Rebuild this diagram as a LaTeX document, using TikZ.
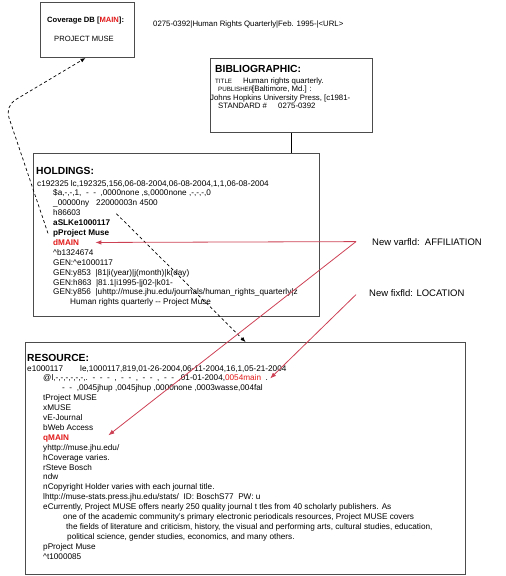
\documentclass[tikz,border=0pt]{standalone}
\usepackage{fontspec}
\setmainfont{Liberation Sans}
\usetikzlibrary{arrows.meta,positioning}
\definecolor{mainred}{RGB}{225,25,25}
\definecolor{linkred}{RGB}{205,65,85}
\tikzset{
     box/.style = {draw=black!70, line width=1pt, anchor=north west, inner sep=0pt},
     heading/.style = {anchor=base west, inner sep=0pt, font=\fontsize{10.3}{12}\selectfont\bfseries},
     rec/.style = {anchor=base west, inner sep=0pt, font=\fontsize{8.2}{9.9}\selectfont},
     small/.style = {anchor=base west, inner sep=0pt, font=\fontsize{7.8}{9}\selectfont},
     note/.style = {anchor=base west, inner sep=0pt, font=\fontsize{9.5}{11}\selectfont},
     linkedge/.style = {linkred, line width=0.8pt, -{Latex[length=6pt,width=4.5pt]}},
     moveedge/.style = {black, line width=0.7pt, dash pattern=on 3pt off 2.5pt, -{Latex[length=5pt,width=4pt]}},
    }
\newcommand{\hot}[1]{\textcolor{mainred}{\textbf{#1}}}
\newcommand{\tag}[2]{\makebox[#1][l]{\fontsize{6.2}{9}\selectfont #2}}

\begin{document}
\begin{tikzpicture}[x=1pt, y=-1pt]
        \useasboundingbox (0,0) rectangle (506,576);
        % boxes
        \node [box, minimum width=94, minimum height=55] (cov) at (40,2) {};
        \node [box, minimum width=162, minimum height=74] (bib) at (210,58) {};
        \node [box, minimum width=286, minimum height=163] (hold) at (33,153) {};
        \node [box, minimum width=440, minimum height=232] (res) at (25,342) {};
        % coverage
        \node [small, font=\fontsize{7.6}{9}\selectfont\bfseries] (covhead) at (47,22) {Coverage DB [\textcolor{mainred}{MAIN}]:};
        \node [small, font=\fontsize{7.6}{9}\selectfont] (covname) at (54,41) {PROJECT MUSE};
        \node [small] (url) at (153,26) {0275-0392|Human Rights Quarterly|Feb. 1995-|<URL>};
        % bibliographic
        \node [heading] (bibhead) at (215,72) {BIBLIOGRAPHIC:};
        \node [small] (b1) at (215,83) {\tag{28pt}{TITLE}Human rights quarterly.};
        \node [small] (b2) at (218,91.5) {\tag{34pt}{PUBLISHER}[Baltimore, Md.] :};
        \node [small] (b3) at (210,100) {Johns Hopkins University Press, [c1981-};
        \node [small] (b4) at (218,108.5) {\makebox[60pt][l]{STANDARD \#}0275-0392};
        % holdings
        \node [heading] (holdhead) at (36,174) {HOLDINGS:};
        \node [rec] (h1) at (37,186) {c192325 lc,192325,156,06-08-2004,06-08-2004,1,1,06-08-2004};
        \foreach \txt [count=\i from 2] in {
            {\$a,-,-,1,~~-~~-~~,0000none ,s,0000none ,-,-,-,0},
            {\_00000ny\hspace{7pt}22000003n 4500},
            {h86603},
            {\textbf{aSLKe1000117}},
            {\textbf{pProject Muse}},
            {\hot{dMAIN}},
            {\textasciicircum b1324674},
            {GEN:\textasciicircum e1000117},
            {GEN:y853~~|81|i(year)|j(month)|k(day)},
            {GEN:h863~~|81.1|i1995-|j02-|k01-},
            {GEN:y856~~|uhttp://muse.jhu.edu/journals/human\_rights\_quarterly|z}}
            \node [rec] (h\i) at (53,{186+9.9*(\i-1)}) {\txt};
        \node [rec] (h13) at (70,304.8) {Human rights quarterly -{}- Project Muse};
        % resource
        \node [heading] (reshead) at (27,361) {RESOURCE:};
        \node [rec] (r1) at (27,371) {\makebox[53pt][l]{e1000117}le,1000117,819,01-26-2004,06-11-2004,16,1,05-21-2004};
        \node [rec] (r2) at (43,380.9) {@l,-,-,-,-,-,-,.~~-~~-~~-~~,~~-~~-~~,~~-~~-~~,~~-~~-~~,01-01-2004,\textcolor{mainred}{0054main}~~.};
        \node [rec] (r3) at (62,390.8) {-~~-~~,0045jhup ,0045jhup ,0000none ,0003wasse,004fal};
        \foreach \txt [count=\i from 4] in {
            {tProject MUSE},
            {xMUSE},
            {vE-Journal},
            {bWeb Access},
            {\hot{qMAIN}},
            {yhttp://muse.jhu.edu/},
            {hCoverage varies.},
            {rSteve Bosch},
            {ndw},
            {nCopyright Holder varies with each journal title.},
            {lhttp://muse-stats.press.jhu.edu/stats/~~ID: BoschS77~~PW: u},
            {eCurrently, Project MUSE offers nearly 250 quality journal t tles from 40 scholarly publishers. As}}
            \node [rec] (r\i) at (43,{371+9.9*(\i-1)}) {\txt};
        \node [rec] (r16) at (63,519.5) {one of the academic community's primary electronic periodicals resources, Project MUSE covers};
        \node [rec] (r17) at (66,529.4) {the fields of literature and criticism, history, the visual and performing arts, cultural studies, education,};
        \node [rec] (r18) at (67,539.3) {political science, gender studies, economics, and many others.};
        \node [rec] (r19) at (43,549.2) {pProject Muse};
        \node [rec] (r20) at (43,559.1) {\textasciicircum t1000085};
        % new fields
        \node [note] (varfld) at (372,245) {New varfld:~~AFFILIATION};
        \node [note] (fixfld) at (369,296) {New fixfld: LOCATION};
        \coordinate (varstart) at ([xshift=-16pt]varfld.west);
        \coordinate (fixstart) at ([xshift=-13pt, yshift=-2pt]fixfld.west);
        % connectors
        \draw [black, line width=1pt] (bib.south) -- (bib.south |- hold.north);
        \draw [moveedge, rounded corners=12pt] ([xshift=-5pt]h6.west) -- (5,106) -- ([xshift=-2pt]cov.south);
        \draw [moveedge] ([shift={(6pt,6pt)}]h5.north east) -- (res.north);
        \draw [linkedge] (varstart) -- ([xshift=16pt]h7.east);
        \draw [linkedge] (varstart) -- ([xshift=39pt, yshift=3pt]r8.east);
        \draw [linkedge] (fixstart) -- ([xshift=2pt]r2.east);
    \end{tikzpicture}
\end{document}
